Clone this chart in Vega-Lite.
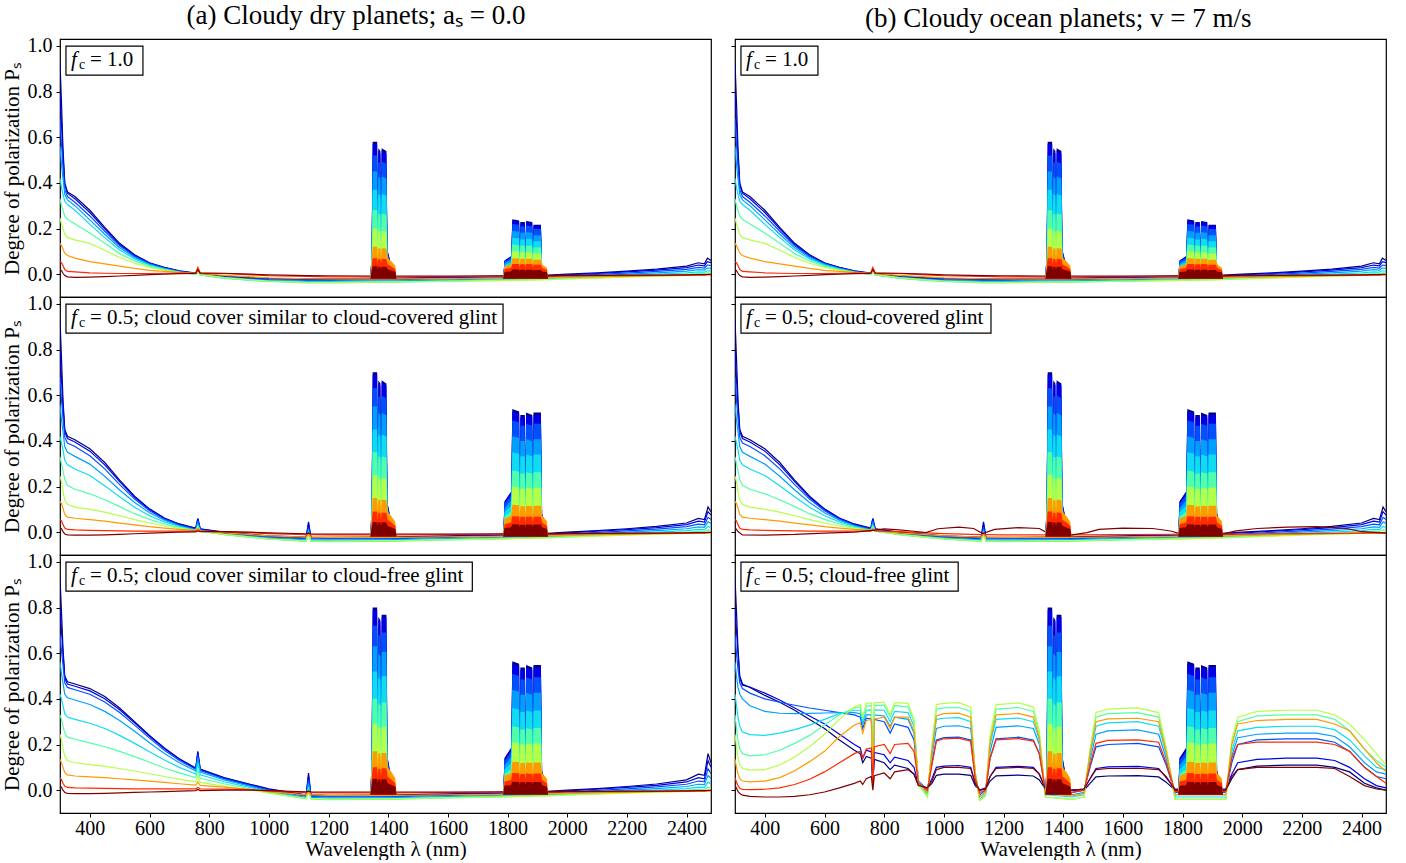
{
"$schema": "https://vega.github.io/schema/vega-lite/v6.json",
"padding": {"left": 0, "top": 2, "right": 5, "bottom": 0},
"config": {
  "font": "Liberation Serif",
  "view": {"stroke": "black", "strokeWidth": 1.2},
  "axis": {"grid": false, "domain": false, "tickColor": "black", "labelColor": "black", "titleColor": "black", "labelFont": "Liberation Serif", "titleFont": "Liberation Serif", "labelFontSize": 20, "titleFontSize": 21, "titleFontWeight": "normal", "tickSize": 4, "labelPadding": 4},
  "title": {"font": "Liberation Serif", "fontSize": 27, "fontWeight": "normal", "color": "black"},
  "text": {"font": "Liberation Serif", "color": "black"}
},
"datasets": {
"L": [
{"p":"1","x":300,"c0":0.93,"c1":0.8,"c2":0.68,"c3":0.56,"c4":0.42,"c5":0.33,"c6":0.245,"c7":0.135,"c8":0.055,"c9":0.02},
{"p":"1","x":305,"c0":0.75,"c1":0.66,"c2":0.57,"c3":0.48,"c4":0.38,"c5":0.3,"c6":0.22,"c7":0.125,"c8":0.05,"c9":0.015},
{"p":"1","x":310,"c0":0.55,"c1":0.52,"c2":0.47,"c3":0.42,"c4":0.35,"c5":0.28,"c6":0.2,"c7":0.11,"c8":0.038,"c9":0.004},
{"p":"1","x":316,"c0":0.4,"c1":0.39,"c2":0.37,"c3":0.35,"c4":0.32,"c5":0.255,"c6":0.175,"c7":0.092,"c8":0.02,"c9":-0.006},
{"p":"1","x":325,"c0":0.36,"c1":0.355,"c2":0.34,"c3":0.325,"c4":0.305,"c5":0.24,"c6":0.16,"c7":0.082,"c8":0.012,"c9":-0.012},
{"p":"1","x":350,"c0":0.34,"c1":0.33,"c2":0.315,"c3":0.3,"c4":0.28,"c5":0.22,"c6":0.15,"c7":0.07,"c8":0.01,"c9":-0.014},
{"p":"1","x":400,"c0":0.28,"c1":0.27,"c2":0.255,"c3":0.238,"c4":0.218,"c5":0.18,"c6":0.135,"c7":0.055,"c8":0.006,"c9":-0.013},
{"p":"1","x":450,"c0":0.205,"c1":0.198,"c2":0.188,"c3":0.175,"c4":0.16,"c5":0.135,"c6":0.105,"c7":0.045,"c8":0.004,"c9":-0.011},
{"p":"1","x":500,"c0":0.135,"c1":0.13,"c2":0.124,"c3":0.116,"c4":0.106,"c5":0.09,"c6":0.073,"c7":0.035,"c8":0.003,"c9":-0.008},
{"p":"1","x":550,"c0":0.085,"c1":0.082,"c2":0.078,"c3":0.073,"c4":0.067,"c5":0.058,"c6":0.048,"c7":0.025,"c8":0.003,"c9":-0.005},
{"p":"1","x":600,"c0":0.05,"c1":0.048,"c2":0.046,"c3":0.043,"c4":0.04,"c5":0.035,"c6":0.03,"c7":0.017,"c8":0.003,"c9":-0.002},
{"p":"1","x":650,"c0":0.03,"c1":0.029,"c2":0.027,"c3":0.025,"c4":0.022,"c5":0.02,"c6":0.018,"c7":0.012,"c8":0.004,"c9":0},
{"p":"1","x":700,"c0":0.015,"c1":0.014,"c2":0.012,"c3":0.01,"c4":0.009,"c5":0.008,"c6":0.008,"c7":0.008,"c8":0.005,"c9":0.002},
{"p":"1","x":755,"c0":0.005,"c1":0.004,"c2":0.002,"c3":0,"c4":-0.001,"c5":-0.001,"c6":0,"c7":0.004,"c8":0.006,"c9":0.003},
{"p":"1","x":762,"c0":0.015,"c1":0.014,"c2":0.012,"c3":0.01,"c4":0.01,"c5":0.012,"c6":0.014,"c7":0.02,"c8":0.03,"c9":0.02},
{"p":"1","x":770,"c0":0.003,"c1":0.002,"c2":0,"c3":-0.002,"c4":-0.003,"c5":-0.003,"c6":-0.002,"c7":0.003,"c8":0.006,"c9":0.004},
{"p":"1","x":850,"c0":-0.008,"c1":-0.01,"c2":-0.012,"c3":-0.015,"c4":-0.017,"c5":-0.017,"c6":-0.015,"c7":-0.005,"c8":0.003,"c9":0.004},
{"p":"1","x":940,"c0":-0.015,"c1":-0.017,"c2":-0.02,"c3":-0.023,"c4":-0.026,"c5":-0.027,"c6":-0.025,"c7":-0.012,"c8":-0.003,"c9":0},
{"p":"1","x":1000,"c0":-0.018,"c1":-0.02,"c2":-0.024,"c3":-0.028,"c4":-0.031,"c5":-0.032,"c6":-0.03,"c7":-0.016,"c8":-0.007,"c9":-0.003},
{"p":"1","x":1130,"c0":-0.02,"c1":-0.023,"c2":-0.027,"c3":-0.032,"c4":-0.036,"c5":-0.038,"c6":-0.036,"c7":-0.02,"c8":-0.01,"c9":-0.006},
{"p":"1","x":1200,"c0":-0.02,"c1":-0.023,"c2":-0.027,"c3":-0.032,"c4":-0.036,"c5":-0.038,"c6":-0.036,"c7":-0.021,"c8":-0.012,"c9":-0.007},
{"p":"1","x":1340,"c0":-0.018,"c1":-0.021,"c2":-0.025,"c3":-0.03,"c4":-0.034,"c5":-0.036,"c6":-0.035,"c7":-0.021,"c8":-0.012,"c9":-0.008},
{"p":"1","x":1430,"c0":-0.017,"c1":-0.02,"c2":-0.024,"c3":-0.029,"c4":-0.033,"c5":-0.035,"c6":-0.034,"c7":-0.021,"c8":-0.012,"c9":-0.008},
{"p":"1","x":1600,"c0":-0.013,"c1":-0.016,"c2":-0.02,"c3":-0.025,"c4":-0.029,"c5":-0.031,"c6":-0.031,"c7":-0.019,"c8":-0.011,"c9":-0.008},
{"p":"1","x":1790,"c0":-0.008,"c1":-0.011,"c2":-0.015,"c3":-0.02,"c4":-0.024,"c5":-0.027,"c6":-0.027,"c7":-0.017,"c8":-0.01,"c9":-0.007},
{"p":"1","x":1935,"c0":-0.004,"c1":-0.007,"c2":-0.011,"c3":-0.016,"c4":-0.02,"c5":-0.023,"c6":-0.024,"c7":-0.015,"c8":-0.009,"c9":-0.006},
{"p":"1","x":2000,"c0":0,"c1":-0.003,"c2":-0.007,"c3":-0.012,"c4":-0.016,"c5":-0.02,"c6":-0.021,"c7":-0.013,"c8":-0.008,"c9":-0.005},
{"p":"1","x":2100,"c0":0.006,"c1":0.003,"c2":-0.001,"c3":-0.006,"c4":-0.011,"c5":-0.015,"c6":-0.017,"c7":-0.011,"c8":-0.007,"c9":-0.005},
{"p":"1","x":2200,"c0":0.013,"c1":0.01,"c2":0.005,"c3":0,"c4":-0.005,"c5":-0.01,"c6":-0.013,"c7":-0.009,"c8":-0.006,"c9":-0.004},
{"p":"1","x":2300,"c0":0.022,"c1":0.018,"c2":0.012,"c3":0.006,"c4":0,"c5":-0.005,"c6":-0.009,"c7":-0.007,"c8":-0.005,"c9":-0.004},
{"p":"1","x":2400,"c0":0.035,"c1":0.029,"c2":0.021,"c3":0.013,"c4":0.006,"c5":0,"c6":-0.005,"c7":-0.005,"c8":-0.004,"c9":-0.003},
{"p":"1","x":2440,"c0":0.05,"c1":0.04,"c2":0.03,"c3":0.02,"c4":0.01,"c5":0.003,"c6":-0.003,"c7":-0.004,"c8":-0.003,"c9":-0.002},
{"p":"1","x":2460,"c0":0.045,"c1":0.036,"c2":0.027,"c3":0.018,"c4":0.009,"c5":0.002,"c6":-0.003,"c7":-0.004,"c8":-0.003,"c9":-0.002},
{"p":"1","x":2470,"c0":0.07,"c1":0.055,"c2":0.04,"c3":0.027,"c4":0.015,"c5":0.006,"c6":0,"c7":-0.003,"c8":-0.002,"c9":-0.001},
{"p":"1","x":2482,"c0":0.06,"c1":0.05,"c2":0.037,"c3":0.025,"c4":0.013,"c5":0.005,"c6":-0.001,"c7":-0.003,"c8":-0.002,"c9":-0.001},

{"p":"2","x":300,"c0":0.93,"c1":0.8,"c2":0.68,"c3":0.56,"c4":0.42,"c5":0.33,"c6":0.245,"c7":0.135,"c8":0.055,"c9":0.02},
{"p":"2","x":305,"c0":0.76,"c1":0.67,"c2":0.58,"c3":0.49,"c4":0.39,"c5":0.3,"c6":0.22,"c7":0.125,"c8":0.05,"c9":0.015},
{"p":"2","x":310,"c0":0.58,"c1":0.55,"c2":0.5,"c3":0.44,"c4":0.36,"c5":0.27,"c6":0.18,"c7":0.105,"c8":0.033,"c9":0.002},
{"p":"2","x":316,"c0":0.45,"c1":0.44,"c2":0.415,"c3":0.375,"c4":0.315,"c5":0.23,"c6":0.14,"c7":0.078,"c8":0.018,"c9":-0.008},
{"p":"2","x":325,"c0":0.42,"c1":0.41,"c2":0.39,"c3":0.35,"c4":0.295,"c5":0.205,"c6":0.122,"c7":0.066,"c8":0.012,"c9":-0.012},
{"p":"2","x":350,"c0":0.405,"c1":0.395,"c2":0.375,"c3":0.332,"c4":0.277,"c5":0.188,"c6":0.11,"c7":0.061,"c8":0.01,"c9":-0.013},
{"p":"2","x":400,"c0":0.365,"c1":0.355,"c2":0.335,"c3":0.298,"c4":0.248,"c5":0.168,"c6":0.1,"c7":0.055,"c8":0.008,"c9":-0.013},
{"p":"2","x":450,"c0":0.305,"c1":0.295,"c2":0.277,"c3":0.245,"c4":0.203,"c5":0.142,"c6":0.088,"c7":0.048,"c8":0.007,"c9":-0.012},
{"p":"2","x":500,"c0":0.228,"c1":0.221,"c2":0.208,"c3":0.185,"c4":0.155,"c5":0.112,"c6":0.072,"c7":0.04,"c8":0.006,"c9":-0.01},
{"p":"2","x":550,"c0":0.158,"c1":0.153,"c2":0.145,"c3":0.13,"c4":0.109,"c5":0.081,"c6":0.055,"c7":0.032,"c8":0.005,"c9":-0.007},
{"p":"2","x":600,"c0":0.102,"c1":0.099,"c2":0.094,"c3":0.085,"c4":0.072,"c5":0.056,"c6":0.04,"c7":0.024,"c8":0.005,"c9":-0.004},
{"p":"2","x":650,"c0":0.062,"c1":0.06,"c2":0.057,"c3":0.052,"c4":0.045,"c5":0.036,"c6":0.027,"c7":0.018,"c8":0.005,"c9":-0.002},
{"p":"2","x":700,"c0":0.036,"c1":0.034,"c2":0.031,"c3":0.028,"c4":0.025,"c5":0.021,"c6":0.017,"c7":0.012,"c8":0.005,"c9":0},
{"p":"2","x":755,"c0":0.018,"c1":0.016,"c2":0.013,"c3":0.01,"c4":0.008,"c5":0.007,"c6":0.007,"c7":0.008,"c8":0.005,"c9":0.001},
{"p":"2","x":762,"c0":0.06,"c1":0.057,"c2":0.05,"c3":0.04,"c4":0.03,"c5":0.025,"c6":0.02,"c7":0.016,"c8":0.01,"c9":0.005},
{"p":"2","x":770,"c0":0.015,"c1":0.013,"c2":0.01,"c3":0.007,"c4":0.005,"c5":0.004,"c6":0.004,"c7":0.006,"c8":0.005,"c9":0.002},
{"p":"2","x":850,"c0":0,"c1":-0.002,"c2":-0.005,"c3":-0.008,"c4":-0.01,"c5":-0.011,"c6":-0.01,"c7":-0.003,"c8":0.002,"c9":0.002},
{"p":"2","x":940,"c0":-0.01,"c1":-0.012,"c2":-0.015,"c3":-0.019,"c4":-0.022,"c5":-0.023,"c6":-0.022,"c7":-0.011,"c8":-0.003,"c9":0},
{"p":"2","x":1000,"c0":-0.016,"c1":-0.018,"c2":-0.022,"c3":-0.026,"c4":-0.029,"c5":-0.03,"c6":-0.029,"c7":-0.016,"c8":-0.006,"c9":-0.003},
{"p":"2","x":1125,"c0":-0.022,"c1":-0.025,"c2":-0.029,"c3":-0.034,"c4":-0.038,"c5":-0.04,"c6":-0.038,"c7":-0.022,"c8":-0.011,"c9":-0.007},
{"p":"2","x":1133,"c0":0.045,"c1":0.035,"c2":0.022,"c3":0.01,"c4":0,"c5":-0.01,"c6":-0.015,"c7":-0.01,"c8":-0.005,"c9":-0.004},
{"p":"2","x":1141,"c0":-0.022,"c1":-0.025,"c2":-0.029,"c3":-0.034,"c4":-0.038,"c5":-0.04,"c6":-0.038,"c7":-0.022,"c8":-0.011,"c9":-0.007},
{"p":"2","x":1200,"c0":-0.023,"c1":-0.026,"c2":-0.03,"c3":-0.035,"c4":-0.039,"c5":-0.041,"c6":-0.039,"c7":-0.023,"c8":-0.012,"c9":-0.008},
{"p":"2","x":1340,"c0":-0.022,"c1":-0.025,"c2":-0.029,"c3":-0.034,"c4":-0.038,"c5":-0.04,"c6":-0.038,"c7":-0.023,"c8":-0.012,"c9":-0.008},
{"p":"2","x":1430,"c0":-0.021,"c1":-0.024,"c2":-0.028,"c3":-0.033,"c4":-0.037,"c5":-0.039,"c6":-0.037,"c7":-0.023,"c8":-0.012,"c9":-0.008},
{"p":"2","x":1600,"c0":-0.016,"c1":-0.019,"c2":-0.023,"c3":-0.028,"c4":-0.032,"c5":-0.034,"c6":-0.033,"c7":-0.02,"c8":-0.011,"c9":-0.008},
{"p":"2","x":1790,"c0":-0.01,"c1":-0.013,"c2":-0.017,"c3":-0.022,"c4":-0.026,"c5":-0.029,"c6":-0.029,"c7":-0.018,"c8":-0.01,"c9":-0.007},
{"p":"2","x":1935,"c0":-0.005,"c1":-0.008,"c2":-0.012,"c3":-0.017,"c4":-0.021,"c5":-0.024,"c6":-0.025,"c7":-0.016,"c8":-0.009,"c9":-0.006},
{"p":"2","x":2000,"c0":0,"c1":-0.003,"c2":-0.008,"c3":-0.013,"c4":-0.017,"c5":-0.021,"c6":-0.022,"c7":-0.014,"c8":-0.008,"c9":-0.005},
{"p":"2","x":2100,"c0":0.007,"c1":0.004,"c2":-0.001,"c3":-0.006,"c4":-0.011,"c5":-0.015,"c6":-0.017,"c7":-0.011,"c8":-0.007,"c9":-0.005},
{"p":"2","x":2200,"c0":0.015,"c1":0.011,"c2":0.006,"c3":0,"c4":-0.005,"c5":-0.01,"c6":-0.013,"c7":-0.009,"c8":-0.006,"c9":-0.004},
{"p":"2","x":2300,"c0":0.025,"c1":0.02,"c2":0.013,"c3":0.007,"c4":0,"c5":-0.005,"c6":-0.009,"c7":-0.007,"c8":-0.005,"c9":-0.004},
{"p":"2","x":2400,"c0":0.04,"c1":0.033,"c2":0.024,"c3":0.015,"c4":0.007,"c5":0,"c6":-0.005,"c7":-0.005,"c8":-0.004,"c9":-0.003},
{"p":"2","x":2440,"c0":0.06,"c1":0.048,"c2":0.035,"c3":0.023,"c4":0.012,"c5":0.004,"c6":-0.003,"c7":-0.004,"c8":-0.003,"c9":-0.002},
{"p":"2","x":2460,"c0":0.055,"c1":0.044,"c2":0.032,"c3":0.021,"c4":0.011,"c5":0.003,"c6":-0.003,"c7":-0.004,"c8":-0.003,"c9":-0.002},
{"p":"2","x":2472,"c0":0.11,"c1":0.09,"c2":0.065,"c3":0.045,"c4":0.025,"c5":0.01,"c6":0,"c7":-0.003,"c8":-0.002,"c9":-0.001},
{"p":"2","x":2482,"c0":0.09,"c1":0.075,"c2":0.055,"c3":0.038,"c4":0.02,"c5":0.008,"c6":-0.001,"c7":-0.003,"c8":-0.002,"c9":-0.001},

{"p":"2b","x":300,"c9":0.02},{"p":"2b","x":310,"c9":0.003},{"p":"2b","x":325,"c9":-0.012},{"p":"2b","x":400,"c9":-0.013},
{"p":"2b","x":500,"c9":-0.01},{"p":"2b","x":600,"c9":-0.004},{"p":"2b","x":700,"c9":0},{"p":"2b","x":760,"c9":0.008},
{"p":"2b","x":800,"c9":0.014},{"p":"2b","x":850,"c9":0.01},{"p":"2b","x":900,"c9":0.004},{"p":"2b","x":940,"c9":-0.002},
{"p":"2b","x":980,"c9":0.015},{"p":"2b","x":1050,"c9":0.022},{"p":"2b","x":1100,"c9":0.016},{"p":"2b","x":1130,"c9":-0.006},
{"p":"2b","x":1170,"c9":0.012},{"p":"2b","x":1250,"c9":0.02},{"p":"2b","x":1320,"c9":0.016},{"p":"2b","x":1345,"c9":-0.002},
{"p":"2b","x":1430,"c9":-0.012},{"p":"2b","x":1480,"c9":-0.002},{"p":"2b","x":1520,"c9":0.012},{"p":"2b","x":1600,"c9":0.018},
{"p":"2b","x":1700,"c9":0.016},{"p":"2b","x":1760,"c9":0.005},{"p":"2b","x":1790,"c9":-0.006},{"p":"2b","x":1940,"c9":-0.006},
{"p":"2b","x":1980,"c9":0.006},{"p":"2b","x":2050,"c9":0.016},{"p":"2b","x":2150,"c9":0.022},{"p":"2b","x":2250,"c9":0.024},
{"p":"2b","x":2350,"c9":0.016},{"p":"2b","x":2400,"c9":0.002},{"p":"2b","x":2482,"c9":-0.004},

{"p":"3","x":300,"c0":0.93,"c1":0.8,"c2":0.68,"c3":0.56,"c4":0.42,"c5":0.33,"c6":0.245,"c7":0.135,"c8":0.055,"c9":0.02},
{"p":"3","x":305,"c0":0.78,"c1":0.7,"c2":0.61,"c3":0.51,"c4":0.4,"c5":0.31,"c6":0.22,"c7":0.12,"c8":0.045,"c9":0.012},
{"p":"3","x":310,"c0":0.62,"c1":0.6,"c2":0.55,"c3":0.47,"c4":0.37,"c5":0.28,"c6":0.185,"c7":0.1,"c8":0.03,"c9":0},
{"p":"3","x":316,"c0":0.5,"c1":0.49,"c2":0.47,"c3":0.42,"c4":0.335,"c5":0.25,"c6":0.15,"c7":0.078,"c8":0.018,"c9":-0.01},
{"p":"3","x":325,"c0":0.475,"c1":0.465,"c2":0.45,"c3":0.405,"c4":0.32,"c5":0.232,"c6":0.13,"c7":0.067,"c8":0.012,"c9":-0.014},
{"p":"3","x":350,"c0":0.465,"c1":0.455,"c2":0.44,"c3":0.395,"c4":0.31,"c5":0.223,"c6":0.12,"c7":0.062,"c8":0.01,"c9":-0.015},
{"p":"3","x":400,"c0":0.445,"c1":0.435,"c2":0.42,"c3":0.375,"c4":0.293,"c5":0.207,"c6":0.112,"c7":0.058,"c8":0.009,"c9":-0.015},
{"p":"3","x":450,"c0":0.41,"c1":0.4,"c2":0.386,"c3":0.345,"c4":0.27,"c5":0.19,"c6":0.104,"c7":0.055,"c8":0.008,"c9":-0.014},
{"p":"3","x":500,"c0":0.36,"c1":0.352,"c2":0.34,"c3":0.305,"c4":0.24,"c5":0.17,"c6":0.095,"c7":0.05,"c8":0.007,"c9":-0.012},
{"p":"3","x":550,"c0":0.3,"c1":0.295,"c2":0.285,"c3":0.258,"c4":0.205,"c5":0.147,"c6":0.084,"c7":0.045,"c8":0.006,"c9":-0.01},
{"p":"3","x":600,"c0":0.24,"c1":0.236,"c2":0.228,"c3":0.208,"c4":0.168,"c5":0.122,"c6":0.072,"c7":0.04,"c8":0.006,"c9":-0.008},
{"p":"3","x":650,"c0":0.185,"c1":0.182,"c2":0.175,"c3":0.161,"c4":0.132,"c5":0.097,"c6":0.06,"c7":0.034,"c8":0.006,"c9":-0.006},
{"p":"3","x":700,"c0":0.138,"c1":0.135,"c2":0.13,"c3":0.12,"c4":0.1,"c5":0.076,"c6":0.048,"c7":0.028,"c8":0.006,"c9":-0.004},
{"p":"3","x":755,"c0":0.097,"c1":0.095,"c2":0.091,"c3":0.084,"c4":0.071,"c5":0.055,"c6":0.036,"c7":0.022,"c8":0.006,"c9":-0.002},
{"p":"3","x":762,"c0":0.17,"c1":0.165,"c2":0.155,"c3":0.14,"c4":0.12,"c5":0.09,"c6":0.06,"c7":0.036,"c8":0.012,"c9":0.003},
{"p":"3","x":770,"c0":0.092,"c1":0.09,"c2":0.086,"c3":0.079,"c4":0.067,"c5":0.052,"c6":0.034,"c7":0.021,"c8":0.006,"c9":-0.002},
{"p":"3","x":850,"c0":0.055,"c1":0.053,"c2":0.05,"c3":0.045,"c4":0.037,"c5":0.028,"c6":0.018,"c7":0.013,"c8":0.005,"c9":0},
{"p":"3","x":940,"c0":0.025,"c1":0.023,"c2":0.02,"c3":0.016,"c4":0.011,"c5":0.005,"c6":0.001,"c7":0.003,"c8":0.002,"c9":0},
{"p":"3","x":1000,"c0":0.006,"c1":0.004,"c2":0,"c3":-0.004,"c4":-0.008,"c5":-0.012,"c6":-0.013,"c7":-0.006,"c8":-0.003,"c9":-0.002},
{"p":"3","x":1125,"c0":-0.02,"c1":-0.023,"c2":-0.027,"c3":-0.032,"c4":-0.036,"c5":-0.038,"c6":-0.036,"c7":-0.021,"c8":-0.011,"c9":-0.007},
{"p":"3","x":1133,"c0":0.075,"c1":0.062,"c2":0.045,"c3":0.03,"c4":0.015,"c5":0,"c6":-0.01,"c7":-0.01,"c8":-0.005,"c9":-0.004},
{"p":"3","x":1141,"c0":-0.02,"c1":-0.023,"c2":-0.027,"c3":-0.032,"c4":-0.036,"c5":-0.038,"c6":-0.036,"c7":-0.021,"c8":-0.011,"c9":-0.007},
{"p":"3","x":1200,"c0":-0.023,"c1":-0.026,"c2":-0.03,"c3":-0.035,"c4":-0.039,"c5":-0.041,"c6":-0.039,"c7":-0.023,"c8":-0.012,"c9":-0.008},
{"p":"3","x":1340,"c0":-0.022,"c1":-0.025,"c2":-0.029,"c3":-0.034,"c4":-0.038,"c5":-0.04,"c6":-0.038,"c7":-0.023,"c8":-0.012,"c9":-0.008},
{"p":"3","x":1430,"c0":-0.021,"c1":-0.024,"c2":-0.028,"c3":-0.033,"c4":-0.037,"c5":-0.039,"c6":-0.037,"c7":-0.023,"c8":-0.012,"c9":-0.008},
{"p":"3","x":1600,"c0":-0.016,"c1":-0.019,"c2":-0.023,"c3":-0.028,"c4":-0.032,"c5":-0.034,"c6":-0.033,"c7":-0.02,"c8":-0.011,"c9":-0.008},
{"p":"3","x":1790,"c0":-0.01,"c1":-0.013,"c2":-0.017,"c3":-0.022,"c4":-0.026,"c5":-0.029,"c6":-0.029,"c7":-0.018,"c8":-0.01,"c9":-0.007},
{"p":"3","x":1935,"c0":-0.005,"c1":-0.008,"c2":-0.012,"c3":-0.017,"c4":-0.021,"c5":-0.024,"c6":-0.025,"c7":-0.016,"c8":-0.009,"c9":-0.006},
{"p":"3","x":2000,"c0":0,"c1":-0.003,"c2":-0.008,"c3":-0.013,"c4":-0.017,"c5":-0.021,"c6":-0.022,"c7":-0.014,"c8":-0.008,"c9":-0.005},
{"p":"3","x":2100,"c0":0.007,"c1":0.004,"c2":-0.001,"c3":-0.006,"c4":-0.011,"c5":-0.015,"c6":-0.017,"c7":-0.011,"c8":-0.007,"c9":-0.005},
{"p":"3","x":2200,"c0":0.016,"c1":0.012,"c2":0.006,"c3":0,"c4":-0.005,"c5":-0.01,"c6":-0.013,"c7":-0.009,"c8":-0.006,"c9":-0.004},
{"p":"3","x":2300,"c0":0.027,"c1":0.021,"c2":0.014,"c3":0.007,"c4":0,"c5":-0.005,"c6":-0.009,"c7":-0.007,"c8":-0.005,"c9":-0.004},
{"p":"3","x":2400,"c0":0.045,"c1":0.036,"c2":0.026,"c3":0.016,"c4":0.007,"c5":0,"c6":-0.005,"c7":-0.005,"c8":-0.004,"c9":-0.003},
{"p":"3","x":2440,"c0":0.07,"c1":0.055,"c2":0.04,"c3":0.026,"c4":0.013,"c5":0.004,"c6":-0.003,"c7":-0.004,"c8":-0.003,"c9":-0.002},
{"p":"3","x":2460,"c0":0.065,"c1":0.05,"c2":0.037,"c3":0.024,"c4":0.012,"c5":0.003,"c6":-0.003,"c7":-0.004,"c8":-0.003,"c9":-0.002},
{"p":"3","x":2472,"c0":0.16,"c1":0.13,"c2":0.095,"c3":0.065,"c4":0.035,"c5":0.013,"c6":0,"c7":-0.003,"c8":-0.002,"c9":-0.001},
{"p":"3","x":2482,"c0":0.12,"c1":0.1,"c2":0.072,"c3":0.05,"c4":0.027,"c5":0.01,"c6":-0.001,"c7":-0.003,"c8":-0.002,"c9":-0.001},

{"p":"3b","x":300,"c0":0.93,"c1":0.8,"c2":0.68,"c3":0.56,"c4":0.42,"c5":0.33,"c6":0.245,"c7":0.135,"c8":0.055,"c9":0.02},
{"p":"3b","x":305,"c0":0.78,"c1":0.7,"c2":0.6,"c3":0.5,"c4":0.37,"c5":0.27,"c6":0.19,"c7":0.1,"c8":0.035,"c9":0.008},
{"p":"3b","x":310,"c0":0.62,"c1":0.6,"c2":0.53,"c3":0.45,"c4":0.32,"c5":0.22,"c6":0.14,"c7":0.07,"c8":0.02,"c9":-0.005},
{"p":"3b","x":316,"c0":0.5,"c1":0.49,"c2":0.47,"c3":0.42,"c4":0.28,"c5":0.18,"c6":0.11,"c7":0.05,"c8":0.008,"c9":-0.015},
{"p":"3b","x":325,"c0":0.465,"c1":0.46,"c2":0.445,"c3":0.4,"c4":0.255,"c5":0.16,"c6":0.095,"c7":0.04,"c8":0.003,"c9":-0.022},
{"p":"3b","x":350,"c0":0.45,"c1":0.452,"c2":0.425,"c3":0.37,"c4":0.243,"c5":0.15,"c6":0.088,"c7":0.036,"c8":0.002,"c9":-0.027},
{"p":"3b","x":400,"c0":0.415,"c1":0.425,"c2":0.4,"c3":0.345,"c4":0.24,"c5":0.155,"c6":0.09,"c7":0.04,"c8":0.004,"c9":-0.03},
{"p":"3b","x":450,"c0":0.385,"c1":0.395,"c2":0.385,"c3":0.337,"c4":0.25,"c5":0.175,"c6":0.11,"c7":0.055,"c8":0.01,"c9":-0.03},
{"p":"3b","x":500,"c0":0.35,"c1":0.36,"c2":0.372,"c3":0.335,"c4":0.265,"c5":0.205,"c6":0.145,"c7":0.085,"c8":0.025,"c9":-0.027},
{"p":"3b","x":550,"c0":0.31,"c1":0.325,"c2":0.36,"c3":0.336,"c4":0.285,"c5":0.24,"c6":0.19,"c7":0.125,"c8":0.048,"c9":-0.02},
{"p":"3b","x":600,"c0":0.27,"c1":0.29,"c2":0.35,"c3":0.338,"c4":0.31,"c5":0.285,"c6":0.245,"c7":0.17,"c8":0.08,"c9":-0.008},
{"p":"3b","x":650,"c0":0.22,"c1":0.245,"c2":0.34,"c3":0.34,"c4":0.335,"c5":0.33,"c6":0.31,"c7":0.235,"c8":0.12,"c9":0.01},
{"p":"3b","x":700,"c0":0.175,"c1":0.2,"c2":0.33,"c3":0.34,"c4":0.35,"c5":0.36,"c6":0.365,"c7":0.285,"c8":0.16,"c9":0.03},
{"p":"3b","x":720,"c0":0.16,"c1":0.185,"c2":0.32,"c3":0.335,"c4":0.35,"c5":0.365,"c6":0.375,"c7":0.295,"c8":0.17,"c9":0.04},
{"p":"3b","x":728,"c0":0.12,"c1":0.14,"c2":0.27,"c3":0.29,"c4":0.3,"c5":0.31,"c6":0.32,"c7":0.25,"c8":0.14,"c9":0.025},
{"p":"3b","x":740,"c0":0.148,"c1":0.175,"c2":0.315,"c3":0.33,"c4":0.35,"c5":0.368,"c6":0.38,"c7":0.305,"c8":0.18,"c9":0.05},
{"p":"3b","x":757,"c0":0.14,"c1":0.168,"c2":0.312,"c3":0.33,"c4":0.352,"c5":0.37,"c6":0.382,"c7":0.31,"c8":0.185,"c9":0.06},
{"p":"3b","x":762,"c0":0.03,"c1":0.03,"c2":0.06,"c3":0.06,"c4":0.06,"c5":0.06,"c6":0.06,"c7":0.05,"c8":0.03,"c9":0},
{"p":"3b","x":767,"c0":0.135,"c1":0.165,"c2":0.31,"c3":0.33,"c4":0.352,"c5":0.37,"c6":0.383,"c7":0.312,"c8":0.19,"c9":0.063},
{"p":"3b","x":800,"c0":0.12,"c1":0.155,"c2":0.3,"c3":0.325,"c4":0.35,"c5":0.372,"c6":0.385,"c7":0.32,"c8":0.2,"c9":0.075},
{"p":"3b","x":820,"c0":0.09,"c1":0.12,"c2":0.25,"c3":0.28,"c4":0.3,"c5":0.32,"c6":0.33,"c7":0.27,"c8":0.16,"c9":0.05},
{"p":"3b","x":835,"c0":0.11,"c1":0.145,"c2":0.29,"c3":0.32,"c4":0.345,"c5":0.37,"c6":0.383,"c7":0.32,"c8":0.2,"c9":0.08},
{"p":"3b","x":880,"c0":0.095,"c1":0.13,"c2":0.275,"c3":0.31,"c4":0.34,"c5":0.365,"c6":0.38,"c7":0.32,"c8":0.205,"c9":0.09},
{"p":"3b","x":900,"c0":0.07,"c1":0.1,"c2":0.22,"c3":0.25,"c4":0.28,"c5":0.3,"c6":0.31,"c7":0.26,"c8":0.17,"c9":0.07},
{"p":"3b","x":915,"c0":0.02,"c1":0.02,"c2":0.04,"c3":0.04,"c4":0.04,"c5":0.03,"c6":0.02,"c7":0.03,"c8":0.03,"c9":0.02},
{"p":"3b","x":945,"c0":0.01,"c1":0.01,"c2":0,"c3":-0.01,"c4":-0.02,"c5":-0.03,"c6":-0.03,"c7":-0.01,"c8":0,"c9":0.01},
{"p":"3b","x":960,"c0":0.03,"c1":0.05,"c2":0.12,"c3":0.15,"c4":0.17,"c5":0.19,"c6":0.2,"c7":0.17,"c8":0.11,"c9":0.04},
{"p":"3b","x":975,"c0":0.065,"c1":0.1,"c2":0.22,"c3":0.27,"c4":0.31,"c5":0.355,"c6":0.375,"c7":0.325,"c8":0.215,"c9":0.09},
{"p":"3b","x":1000,"c0":0.07,"c1":0.105,"c2":0.23,"c3":0.28,"c4":0.315,"c5":0.36,"c6":0.38,"c7":0.335,"c8":0.225,"c9":0.1},
{"p":"3b","x":1050,"c0":0.07,"c1":0.108,"c2":0.232,"c3":0.282,"c4":0.318,"c5":0.362,"c6":0.383,"c7":0.337,"c8":0.228,"c9":0.1},
{"p":"3b","x":1090,"c0":0.065,"c1":0.1,"c2":0.22,"c3":0.27,"c4":0.3,"c5":0.345,"c6":0.365,"c7":0.32,"c8":0.215,"c9":0.095},
{"p":"3b","x":1105,"c0":0.02,"c1":0.03,"c2":0.06,"c3":0.07,"c4":0.08,"c5":0.08,"c6":0.07,"c7":0.07,"c8":0.05,"c9":0.03},
{"p":"3b","x":1120,"c0":0,"c1":0,"c2":-0.02,"c3":-0.03,"c4":-0.04,"c5":-0.045,"c6":-0.045,"c7":-0.03,"c8":-0.01,"c9":0},
{"p":"3b","x":1140,"c0":0.005,"c1":0.01,"c2":0,"c3":-0.01,"c4":-0.02,"c5":-0.025,"c6":-0.025,"c7":-0.01,"c8":0,"c9":0.005},
{"p":"3b","x":1155,"c0":0.04,"c1":0.06,"c2":0.14,"c3":0.17,"c4":0.2,"c5":0.23,"c6":0.24,"c7":0.21,"c8":0.14,"c9":0.06},
{"p":"3b","x":1175,"c0":0.063,"c1":0.1,"c2":0.225,"c3":0.275,"c4":0.31,"c5":0.355,"c6":0.375,"c7":0.33,"c8":0.22,"c9":0.095},
{"p":"3b","x":1250,"c0":0.066,"c1":0.104,"c2":0.232,"c3":0.282,"c4":0.316,"c5":0.362,"c6":0.382,"c7":0.336,"c8":0.226,"c9":0.1},
{"p":"3b","x":1300,"c0":0.062,"c1":0.1,"c2":0.22,"c3":0.27,"c4":0.3,"c5":0.345,"c6":0.365,"c7":0.32,"c8":0.215,"c9":0.095},
{"p":"3b","x":1320,"c0":0.045,"c1":0.07,"c2":0.16,"c3":0.2,"c4":0.22,"c5":0.25,"c6":0.26,"c7":0.23,"c8":0.16,"c9":0.07},
{"p":"3b","x":1340,"c0":0.005,"c1":0.01,"c2":0,"c3":-0.01,"c4":-0.02,"c5":-0.03,"c6":-0.03,"c7":-0.015,"c8":0,"c9":0.005},
{"p":"3b","x":1430,"c0":0,"c1":0,"c2":-0.01,"c3":-0.02,"c4":-0.03,"c5":-0.04,"c6":-0.04,"c7":-0.025,"c8":-0.01,"c9":0},
{"p":"3b","x":1470,"c0":0,"c1":0.005,"c2":0,"c3":-0.01,"c4":-0.02,"c5":-0.03,"c6":-0.03,"c7":-0.015,"c8":0,"c9":0.005},
{"p":"3b","x":1490,"c0":0.03,"c1":0.05,"c2":0.1,"c3":0.13,"c4":0.15,"c5":0.17,"c6":0.18,"c7":0.16,"c8":0.11,"c9":0.05},
{"p":"3b","x":1510,"c0":0.058,"c1":0.095,"c2":0.19,"c3":0.245,"c4":0.28,"c5":0.32,"c6":0.34,"c7":0.3,"c8":0.205,"c9":0.09},
{"p":"3b","x":1550,"c0":0.062,"c1":0.102,"c2":0.2,"c3":0.26,"c4":0.295,"c5":0.335,"c6":0.355,"c7":0.312,"c8":0.218,"c9":0.095},
{"p":"3b","x":1650,"c0":0.064,"c1":0.104,"c2":0.205,"c3":0.264,"c4":0.3,"c5":0.34,"c6":0.36,"c7":0.315,"c8":0.22,"c9":0.096},
{"p":"3b","x":1720,"c0":0.058,"c1":0.095,"c2":0.19,"c3":0.245,"c4":0.28,"c5":0.32,"c6":0.34,"c7":0.3,"c8":0.21,"c9":0.09},
{"p":"3b","x":1745,"c0":0.035,"c1":0.055,"c2":0.11,"c3":0.14,"c4":0.16,"c5":0.18,"c6":0.19,"c7":0.17,"c8":0.12,"c9":0.06},
{"p":"3b","x":1775,"c0":0,"c1":0.005,"c2":-0.01,"c3":-0.02,"c4":-0.03,"c5":-0.04,"c6":-0.04,"c7":-0.02,"c8":-0.005,"c9":0},
{"p":"3b","x":1945,"c0":0,"c1":0.005,"c2":-0.01,"c3":-0.02,"c4":-0.03,"c5":-0.04,"c6":-0.04,"c7":-0.02,"c8":-0.005,"c9":0},
{"p":"3b","x":1965,"c0":0.05,"c1":0.07,"c2":0.12,"c3":0.15,"c4":0.17,"c5":0.2,"c6":0.22,"c7":0.2,"c8":0.14,"c9":0.06},
{"p":"3b","x":1985,"c0":0.09,"c1":0.12,"c2":0.2,"c3":0.23,"c4":0.26,"c5":0.3,"c6":0.32,"c7":0.29,"c8":0.2,"c9":0.09},
{"p":"3b","x":2050,"c0":0.105,"c1":0.135,"c2":0.22,"c3":0.245,"c4":0.275,"c5":0.325,"c6":0.345,"c7":0.305,"c8":0.21,"c9":0.1},
{"p":"3b","x":2150,"c0":0.11,"c1":0.14,"c2":0.225,"c3":0.25,"c4":0.28,"c5":0.33,"c6":0.35,"c7":0.31,"c8":0.21,"c9":0.1},
{"p":"3b","x":2250,"c0":0.11,"c1":0.14,"c2":0.225,"c3":0.25,"c4":0.28,"c5":0.33,"c6":0.35,"c7":0.31,"c8":0.21,"c9":0.1},
{"p":"3b","x":2310,"c0":0.1,"c1":0.13,"c2":0.21,"c3":0.235,"c4":0.265,"c5":0.31,"c6":0.33,"c7":0.29,"c8":0.2,"c9":0.095},
{"p":"3b","x":2360,"c0":0.08,"c1":0.1,"c2":0.17,"c3":0.19,"c4":0.22,"c5":0.26,"c6":0.29,"c7":0.26,"c8":0.17,"c9":0.06},
{"p":"3b","x":2410,"c0":0.03,"c1":0.05,"c2":0.1,"c3":0.12,"c4":0.15,"c5":0.18,"c6":0.22,"c7":0.18,"c8":0.1,"c9":0.02},
{"p":"3b","x":2450,"c0":0.01,"c1":0.02,"c2":0.06,"c3":0.08,"c4":0.1,"c5":0.13,"c6":0.16,"c7":0.12,"c8":0.06,"c9":0.005},
{"p":"3b","x":2482,"c0":0,"c1":0.01,"c2":0.05,"c3":0.07,"c4":0.09,"c5":0.1,"c6":0.11,"c7":0.08,"c8":0.03,"c9":0}
],
"S": [
{"p":"1","x":1340,"c0":-0.02,"c1":-0.02,"c2":-0.02,"c3":-0.02,"c4":-0.02,"c5":-0.02,"c6":-0.02,"c7":-0.02,"c8":-0.02,"c9":-0.02},
{"p":"1","x":1344,"c0":0.087,"c1":0.086,"c2":0.078,"c3":0.068,"c4":0.056,"c5":0.042,"c6":0.03,"c7":0.036,"c8":0.021,"c9":0.011},
{"p":"1","x":1348,"c0":0.58,"c1":0.57,"c2":0.52,"c3":0.45,"c4":0.37,"c5":0.28,"c6":0.2,"c7":0.12,"c8":0.07,"c9":0.035},
{"p":"1","x":1363,"c0":0.58,"c1":0.57,"c2":0.52,"c3":0.45,"c4":0.37,"c5":0.28,"c6":0.2,"c7":0.12,"c8":0.07,"c9":0.035},
{"p":"1","x":1365,"c0":0.348,"c1":0.342,"c2":0.312,"c3":0.27,"c4":0.222,"c5":0.168,"c6":0.12,"c7":0.072,"c8":0.042,"c9":0.021},
{"p":"1","x":1367,"c0":0.551,"c1":0.542,"c2":0.494,"c3":0.428,"c4":0.352,"c5":0.266,"c6":0.19,"c7":0.114,"c8":0.067,"c9":0.033},
{"p":"1","x":1374,"c0":0.539,"c1":0.53,"c2":0.484,"c3":0.419,"c4":0.344,"c5":0.26,"c6":0.186,"c7":0.112,"c8":0.065,"c9":0.033},
{"p":"1","x":1376,"c0":0.261,"c1":0.257,"c2":0.234,"c3":0.203,"c4":0.167,"c5":0.126,"c6":0.09,"c7":0.072,"c8":0.042,"c9":0.021},
{"p":"1","x":1378,"c0":0.551,"c1":0.542,"c2":0.494,"c3":0.428,"c4":0.352,"c5":0.266,"c6":0.19,"c7":0.114,"c8":0.067,"c9":0.033},
{"p":"1","x":1394,"c0":0.539,"c1":0.53,"c2":0.484,"c3":0.419,"c4":0.344,"c5":0.26,"c6":0.186,"c7":0.112,"c8":0.065,"c9":0.033},
{"p":"1","x":1398,"c0":0.104,"c1":0.103,"c2":0.094,"c3":0.081,"c4":0.067,"c5":0.05,"c6":0.036,"c7":0.072,"c8":0.042,"c9":0.021},
{"p":"1","x":1412,"c0":0.029,"c1":0.029,"c2":0.026,"c3":0.023,"c4":0.019,"c5":0.014,"c6":0.01,"c7":0.054,"c8":0.032,"c9":0.016},
{"p":"1","x":1424,"c0":0,"c1":0,"c2":0,"c3":0,"c4":0,"c5":0,"c6":0,"c7":0.036,"c8":0.021,"c9":0.011},
{"p":"1","x":1428,"c0":-0.02,"c1":-0.02,"c2":-0.02,"c3":-0.02,"c4":-0.02,"c5":-0.02,"c6":-0.02,"c7":-0.02,"c8":-0.02,"c9":-0.02},
{"p":"1","x":1785,"c0":-0.02,"c1":-0.02,"c2":-0.02,"c3":-0.02,"c4":-0.02,"c5":-0.02,"c6":-0.02,"c7":-0.02,"c8":-0.02,"c9":-0.02},
{"p":"1","x":1790,"c0":0.06,"c1":0.059,"c2":0.055,"c3":0.048,"c4":0.04,"c5":0.033,"c6":0.025,"c7":0.035,"c8":0.023,"c9":0.01},
{"p":"1","x":1812,"c0":0.079,"c1":0.078,"c2":0.073,"c3":0.063,"c4":0.053,"c5":0.043,"c6":0.033,"c7":0.042,"c8":0.027,"c9":0.012},
{"p":"1","x":1816,"c0":0.24,"c1":0.235,"c2":0.22,"c3":0.19,"c4":0.16,"c5":0.13,"c6":0.1,"c7":0.07,"c8":0.045,"c9":0.02},
{"p":"1","x":1839,"c0":0.235,"c1":0.23,"c2":0.216,"c3":0.186,"c4":0.157,"c5":0.127,"c6":0.098,"c7":0.069,"c8":0.044,"c9":0.02},
{"p":"1","x":1841,"c0":0.096,"c1":0.094,"c2":0.088,"c3":0.076,"c4":0.064,"c5":0.052,"c6":0.04,"c7":0.042,"c8":0.027,"c9":0.012},
{"p":"1","x":1843,"c0":0.228,"c1":0.223,"c2":0.209,"c3":0.181,"c4":0.152,"c5":0.124,"c6":0.095,"c7":0.067,"c8":0.043,"c9":0.019},
{"p":"1","x":1858,"c0":0.228,"c1":0.223,"c2":0.209,"c3":0.181,"c4":0.152,"c5":0.124,"c6":0.095,"c7":0.067,"c8":0.043,"c9":0.019},
{"p":"1","x":1860,"c0":0.096,"c1":0.094,"c2":0.088,"c3":0.076,"c4":0.064,"c5":0.052,"c6":0.04,"c7":0.042,"c8":0.027,"c9":0.012},
{"p":"1","x":1862,"c0":0.233,"c1":0.228,"c2":0.213,"c3":0.184,"c4":0.155,"c5":0.126,"c6":0.097,"c7":0.068,"c8":0.044,"c9":0.019},
{"p":"1","x":1883,"c0":0.228,"c1":0.223,"c2":0.209,"c3":0.181,"c4":0.152,"c5":0.124,"c6":0.095,"c7":0.067,"c8":0.043,"c9":0.019},
{"p":"1","x":1885,"c0":0.084,"c1":0.082,"c2":0.077,"c3":0.067,"c4":0.056,"c5":0.046,"c6":0.035,"c7":0.042,"c8":0.027,"c9":0.012},
{"p":"1","x":1887,"c0":0.216,"c1":0.212,"c2":0.198,"c3":0.171,"c4":0.144,"c5":0.117,"c6":0.09,"c7":0.063,"c8":0.041,"c9":0.018},
{"p":"1","x":1912,"c0":0.216,"c1":0.212,"c2":0.198,"c3":0.171,"c4":0.144,"c5":0.117,"c6":0.09,"c7":0.063,"c8":0.041,"c9":0.018},
{"p":"1","x":1916,"c0":0.036,"c1":0.035,"c2":0.033,"c3":0.029,"c4":0.024,"c5":0.02,"c6":0.015,"c7":0.042,"c8":0.027,"c9":0.012},
{"p":"1","x":1932,"c0":0.005,"c1":0.005,"c2":0.004,"c3":0.004,"c4":0.003,"c5":0.003,"c6":0.002,"c7":0.028,"c8":0.018,"c9":0.008},
{"p":"1","x":1936,"c0":-0.02,"c1":-0.02,"c2":-0.02,"c3":-0.02,"c4":-0.02,"c5":-0.02,"c6":-0.02,"c7":-0.02,"c8":-0.02,"c9":-0.02},

{"p":"2","x":1340,"c0":-0.02,"c1":-0.02,"c2":-0.02,"c3":-0.02,"c4":-0.02,"c5":-0.02,"c6":-0.02,"c7":-0.02,"c8":-0.02,"c9":-0.02},
{"p":"2","x":1344,"c0":0.105,"c1":0.104,"c2":0.095,"c3":0.083,"c4":0.068,"c5":0.053,"c6":0.038,"c7":0.045,"c8":0.027,"c9":0.014},
{"p":"2","x":1348,"c0":0.7,"c1":0.69,"c2":0.63,"c3":0.55,"c4":0.45,"c5":0.35,"c6":0.25,"c7":0.15,"c8":0.09,"c9":0.045},
{"p":"2","x":1363,"c0":0.7,"c1":0.69,"c2":0.63,"c3":0.55,"c4":0.45,"c5":0.35,"c6":0.25,"c7":0.15,"c8":0.09,"c9":0.045},
{"p":"2","x":1365,"c0":0.42,"c1":0.414,"c2":0.378,"c3":0.33,"c4":0.27,"c5":0.21,"c6":0.15,"c7":0.09,"c8":0.054,"c9":0.027},
{"p":"2","x":1367,"c0":0.665,"c1":0.656,"c2":0.599,"c3":0.523,"c4":0.428,"c5":0.333,"c6":0.238,"c7":0.143,"c8":0.086,"c9":0.043},
{"p":"2","x":1374,"c0":0.651,"c1":0.642,"c2":0.586,"c3":0.512,"c4":0.419,"c5":0.326,"c6":0.233,"c7":0.14,"c8":0.084,"c9":0.042},
{"p":"2","x":1376,"c0":0.315,"c1":0.311,"c2":0.284,"c3":0.248,"c4":0.203,"c5":0.158,"c6":0.113,"c7":0.09,"c8":0.054,"c9":0.027},
{"p":"2","x":1378,"c0":0.665,"c1":0.656,"c2":0.599,"c3":0.523,"c4":0.428,"c5":0.333,"c6":0.238,"c7":0.143,"c8":0.086,"c9":0.043},
{"p":"2","x":1394,"c0":0.651,"c1":0.642,"c2":0.586,"c3":0.512,"c4":0.419,"c5":0.326,"c6":0.233,"c7":0.14,"c8":0.084,"c9":0.042},
{"p":"2","x":1398,"c0":0.126,"c1":0.124,"c2":0.113,"c3":0.099,"c4":0.081,"c5":0.063,"c6":0.045,"c7":0.09,"c8":0.054,"c9":0.027},
{"p":"2","x":1412,"c0":0.035,"c1":0.035,"c2":0.032,"c3":0.028,"c4":0.023,"c5":0.018,"c6":0.013,"c7":0.068,"c8":0.041,"c9":0.02},
{"p":"2","x":1424,"c0":0,"c1":0,"c2":0,"c3":0,"c4":0,"c5":0,"c6":0,"c7":0.045,"c8":0.027,"c9":0.014},
{"p":"2","x":1428,"c0":-0.02,"c1":-0.02,"c2":-0.02,"c3":-0.02,"c4":-0.02,"c5":-0.02,"c6":-0.02,"c7":-0.02,"c8":-0.02,"c9":-0.02},
{"p":"2","x":1785,"c0":-0.02,"c1":-0.02,"c2":-0.02,"c3":-0.02,"c4":-0.02,"c5":-0.02,"c6":-0.02,"c7":-0.02,"c8":-0.02,"c9":-0.02},
{"p":"2","x":1790,"c0":0.135,"c1":0.133,"c2":0.123,"c3":0.105,"c4":0.088,"c5":0.068,"c6":0.05,"c7":0.06,"c8":0.035,"c9":0.018},
{"p":"2","x":1812,"c0":0.178,"c1":0.175,"c2":0.162,"c3":0.139,"c4":0.116,"c5":0.089,"c6":0.066,"c7":0.072,"c8":0.042,"c9":0.021},
{"p":"2","x":1816,"c0":0.54,"c1":0.53,"c2":0.49,"c3":0.42,"c4":0.35,"c5":0.27,"c6":0.2,"c7":0.12,"c8":0.07,"c9":0.035},
{"p":"2","x":1839,"c0":0.529,"c1":0.519,"c2":0.48,"c3":0.412,"c4":0.343,"c5":0.265,"c6":0.196,"c7":0.118,"c8":0.069,"c9":0.034},
{"p":"2","x":1841,"c0":0.216,"c1":0.212,"c2":0.196,"c3":0.168,"c4":0.14,"c5":0.108,"c6":0.08,"c7":0.072,"c8":0.042,"c9":0.021},
{"p":"2","x":1843,"c0":0.513,"c1":0.504,"c2":0.466,"c3":0.399,"c4":0.333,"c5":0.257,"c6":0.19,"c7":0.114,"c8":0.067,"c9":0.033},
{"p":"2","x":1858,"c0":0.513,"c1":0.504,"c2":0.466,"c3":0.399,"c4":0.333,"c5":0.257,"c6":0.19,"c7":0.114,"c8":0.067,"c9":0.033},
{"p":"2","x":1860,"c0":0.216,"c1":0.212,"c2":0.196,"c3":0.168,"c4":0.14,"c5":0.108,"c6":0.08,"c7":0.072,"c8":0.042,"c9":0.021},
{"p":"2","x":1862,"c0":0.524,"c1":0.514,"c2":0.475,"c3":0.407,"c4":0.34,"c5":0.262,"c6":0.194,"c7":0.116,"c8":0.068,"c9":0.034},
{"p":"2","x":1883,"c0":0.513,"c1":0.504,"c2":0.466,"c3":0.399,"c4":0.333,"c5":0.257,"c6":0.19,"c7":0.114,"c8":0.067,"c9":0.033},
{"p":"2","x":1885,"c0":0.189,"c1":0.186,"c2":0.172,"c3":0.147,"c4":0.123,"c5":0.095,"c6":0.07,"c7":0.072,"c8":0.042,"c9":0.021},
{"p":"2","x":1887,"c0":0.524,"c1":0.514,"c2":0.475,"c3":0.407,"c4":0.34,"c5":0.262,"c6":0.194,"c7":0.116,"c8":0.068,"c9":0.034},
{"p":"2","x":1912,"c0":0.524,"c1":0.514,"c2":0.475,"c3":0.407,"c4":0.34,"c5":0.262,"c6":0.194,"c7":0.116,"c8":0.068,"c9":0.034},
{"p":"2","x":1916,"c0":0.081,"c1":0.08,"c2":0.074,"c3":0.063,"c4":0.053,"c5":0.041,"c6":0.03,"c7":0.072,"c8":0.042,"c9":0.021},
{"p":"2","x":1932,"c0":0.011,"c1":0.011,"c2":0.01,"c3":0.008,"c4":0.007,"c5":0.005,"c6":0.004,"c7":0.048,"c8":0.028,"c9":0.014},
{"p":"2","x":1936,"c0":-0.02,"c1":-0.02,"c2":-0.02,"c3":-0.02,"c4":-0.02,"c5":-0.02,"c6":-0.02,"c7":-0.02,"c8":-0.02,"c9":-0.02},

{"p":"3","x":1340,"c0":-0.02,"c1":-0.02,"c2":-0.02,"c3":-0.02,"c4":-0.02,"c5":-0.02,"c6":-0.02,"c7":-0.02,"c8":-0.02,"c9":-0.02},
{"p":"3","x":1344,"c0":0.12,"c1":0.119,"c2":0.108,"c3":0.095,"c4":0.078,"c5":0.06,"c6":0.044,"c7":0.051,"c8":0.03,"c9":0.015},
{"p":"3","x":1348,"c0":0.8,"c1":0.79,"c2":0.72,"c3":0.63,"c4":0.52,"c5":0.4,"c6":0.29,"c7":0.17,"c8":0.1,"c9":0.05},
{"p":"3","x":1363,"c0":0.8,"c1":0.79,"c2":0.72,"c3":0.63,"c4":0.52,"c5":0.4,"c6":0.29,"c7":0.17,"c8":0.1,"c9":0.05},
{"p":"3","x":1365,"c0":0.48,"c1":0.474,"c2":0.432,"c3":0.378,"c4":0.312,"c5":0.24,"c6":0.174,"c7":0.102,"c8":0.06,"c9":0.03},
{"p":"3","x":1367,"c0":0.76,"c1":0.751,"c2":0.684,"c3":0.599,"c4":0.494,"c5":0.38,"c6":0.276,"c7":0.162,"c8":0.095,"c9":0.048},
{"p":"3","x":1374,"c0":0.744,"c1":0.735,"c2":0.67,"c3":0.586,"c4":0.484,"c5":0.372,"c6":0.27,"c7":0.158,"c8":0.093,"c9":0.047},
{"p":"3","x":1376,"c0":0.36,"c1":0.356,"c2":0.324,"c3":0.284,"c4":0.234,"c5":0.18,"c6":0.131,"c7":0.102,"c8":0.06,"c9":0.03},
{"p":"3","x":1378,"c0":0.768,"c1":0.758,"c2":0.691,"c3":0.605,"c4":0.499,"c5":0.384,"c6":0.278,"c7":0.163,"c8":0.096,"c9":0.048},
{"p":"3","x":1394,"c0":0.768,"c1":0.758,"c2":0.691,"c3":0.605,"c4":0.499,"c5":0.384,"c6":0.278,"c7":0.163,"c8":0.096,"c9":0.048},
{"p":"3","x":1398,"c0":0.144,"c1":0.142,"c2":0.13,"c3":0.113,"c4":0.094,"c5":0.072,"c6":0.052,"c7":0.102,"c8":0.06,"c9":0.03},
{"p":"3","x":1412,"c0":0.04,"c1":0.04,"c2":0.036,"c3":0.032,"c4":0.026,"c5":0.02,"c6":0.015,"c7":0.077,"c8":0.045,"c9":0.023},
{"p":"3","x":1424,"c0":0,"c1":0,"c2":0,"c3":0,"c4":0,"c5":0,"c6":0,"c7":0.051,"c8":0.03,"c9":0.015},
{"p":"3","x":1428,"c0":-0.02,"c1":-0.02,"c2":-0.02,"c3":-0.02,"c4":-0.02,"c5":-0.02,"c6":-0.02,"c7":-0.02,"c8":-0.02,"c9":-0.02},
{"p":"3","x":1785,"c0":-0.02,"c1":-0.02,"c2":-0.02,"c3":-0.02,"c4":-0.02,"c5":-0.02,"c6":-0.02,"c7":-0.02,"c8":-0.02,"c9":-0.02},
{"p":"3","x":1790,"c0":0.141,"c1":0.139,"c2":0.128,"c3":0.11,"c4":0.09,"c5":0.07,"c6":0.053,"c7":0.063,"c8":0.038,"c9":0.019},
{"p":"3","x":1812,"c0":0.186,"c1":0.183,"c2":0.168,"c3":0.145,"c4":0.119,"c5":0.092,"c6":0.069,"c7":0.075,"c8":0.045,"c9":0.022},
{"p":"3","x":1816,"c0":0.565,"c1":0.555,"c2":0.51,"c3":0.44,"c4":0.36,"c5":0.28,"c6":0.21,"c7":0.125,"c8":0.075,"c9":0.037},
{"p":"3","x":1839,"c0":0.554,"c1":0.544,"c2":0.5,"c3":0.431,"c4":0.353,"c5":0.274,"c6":0.206,"c7":0.123,"c8":0.074,"c9":0.036},
{"p":"3","x":1841,"c0":0.226,"c1":0.222,"c2":0.204,"c3":0.176,"c4":0.144,"c5":0.112,"c6":0.084,"c7":0.075,"c8":0.045,"c9":0.022},
{"p":"3","x":1843,"c0":0.537,"c1":0.527,"c2":0.485,"c3":0.418,"c4":0.342,"c5":0.266,"c6":0.2,"c7":0.119,"c8":0.071,"c9":0.035},
{"p":"3","x":1858,"c0":0.537,"c1":0.527,"c2":0.485,"c3":0.418,"c4":0.342,"c5":0.266,"c6":0.2,"c7":0.119,"c8":0.071,"c9":0.035},
{"p":"3","x":1860,"c0":0.226,"c1":0.222,"c2":0.204,"c3":0.176,"c4":0.144,"c5":0.112,"c6":0.084,"c7":0.075,"c8":0.045,"c9":0.022},
{"p":"3","x":1862,"c0":0.548,"c1":0.538,"c2":0.495,"c3":0.427,"c4":0.349,"c5":0.272,"c6":0.204,"c7":0.121,"c8":0.073,"c9":0.036},
{"p":"3","x":1883,"c0":0.537,"c1":0.527,"c2":0.485,"c3":0.418,"c4":0.342,"c5":0.266,"c6":0.2,"c7":0.119,"c8":0.071,"c9":0.035},
{"p":"3","x":1885,"c0":0.198,"c1":0.194,"c2":0.179,"c3":0.154,"c4":0.126,"c5":0.098,"c6":0.074,"c7":0.075,"c8":0.045,"c9":0.022},
{"p":"3","x":1887,"c0":0.548,"c1":0.538,"c2":0.495,"c3":0.427,"c4":0.349,"c5":0.272,"c6":0.204,"c7":0.121,"c8":0.073,"c9":0.036},
{"p":"3","x":1912,"c0":0.548,"c1":0.538,"c2":0.495,"c3":0.427,"c4":0.349,"c5":0.272,"c6":0.204,"c7":0.121,"c8":0.073,"c9":0.036},
{"p":"3","x":1916,"c0":0.085,"c1":0.083,"c2":0.077,"c3":0.066,"c4":0.054,"c5":0.042,"c6":0.032,"c7":0.075,"c8":0.045,"c9":0.022},
{"p":"3","x":1932,"c0":0.011,"c1":0.011,"c2":0.01,"c3":0.009,"c4":0.007,"c5":0.006,"c6":0.004,"c7":0.05,"c8":0.03,"c9":0.015},
{"p":"3","x":1936,"c0":-0.02,"c1":-0.02,"c2":-0.02,"c3":-0.02,"c4":-0.02,"c5":-0.02,"c6":-0.02,"c7":-0.02,"c8":-0.02,"c9":-0.02}
]
},
"spacing": 17,
"hconcat": [
{
"title": {"text": "(a)  Cloudy dry planets; aₛ = 0.0", "anchor": "middle", "offset": 5},
"spacing": 0, "bounds": "flush",
"vconcat": [
{"width": 651, "height": 258, "data": {"values": [{}]}, "layer": [
 {"data": {"name": "L"}, "transform": [{"filter": "datum.p=='1'"}, {"fold": ["c0","c1","c2","c3","c4","c5","c6","c7","c8","c9"], "as": ["k","v"]}],
  "mark": {"type": "line", "strokeWidth": 1.2, "clip": true},
  "encoding": {"x": {"field": "x", "type": "quantitative", "scale": {"domain": [300, 2482], "nice": false, "zero": false}, "axis": null},
   "y": {"field": "v", "type": "quantitative", "scale": {"domain": [-0.1, 1.03], "nice": false, "zero": false}, "axis": {"values": [0,0.2,0.4,0.6,0.8,1], "format": ".1f", "title": "Degree of polarization Pₛ", "titlePadding": 5}},
   "color": {"field": "k", "type": "nominal", "scale": {"domain": ["c0","c1","c2","c3","c4","c5","c6","c7","c8","c9"], "range": ["#00007f","#0000e8","#0050ff","#00a0ff","#10dcf0","#50ffa8","#b4ff48","#ff9a00","#ff2a00","#800000"]}, "legend": null}}},
 {"data": {"name": "S"}, "transform": [{"filter": "datum.p=='1'"}, {"fold": ["c0","c1","c2","c3","c4","c5","c6","c7","c8","c9"], "as": ["k","v"]}],
  "mark": {"type": "area", "clip": true},
  "encoding": {"x": {"field": "x", "type": "quantitative", "scale": {"domain": [300, 2482], "nice": false, "zero": false}, "axis": null},
   "y": {"field": "v", "type": "quantitative", "stack": null, "scale": {"domain": [-0.1, 1.03], "nice": false, "zero": false}, "axis": {"values": [0,0.2,0.4,0.6,0.8,1], "format": ".1f", "title": "Degree of polarization Pₛ", "titlePadding": 5}},
   "y2": {"datum": -0.02},
   "color": {"field": "k", "type": "nominal", "scale": {"domain": ["c0","c1","c2","c3","c4","c5","c6","c7","c8","c9"], "range": ["#00007f","#0000e8","#0050ff","#00a0ff","#10dcf0","#50ffa8","#b4ff48","#ff9a00","#ff2a00","#800000"]}, "legend": null}}},
 {"mark": {"type": "rect", "fill": "white", "stroke": "black", "strokeWidth": 1.2},
  "encoding": {"x": {"datum": 320, "type": "quantitative", "scale": {"domain": [300, 2482], "nice": false, "zero": false}, "axis": null}, "x2": {"datum": 578},
   "y": {"datum": 0.999, "type": "quantitative", "scale": {"domain": [-0.1, 1.03], "nice": false, "zero": false}, "axis": {"values": [0,0.2,0.4,0.6,0.8,1], "format": ".1f", "title": "Degree of polarization Pₛ", "titlePadding": 5}}, "y2": {"datum": 0.872}}},
 {"mark": {"type": "text", "text": "f", "fontStyle": "italic", "fontSize": 21, "align": "left", "baseline": "middle", "dx": 5},
  "encoding": {"x": {"datum": 320, "type": "quantitative", "scale": {"domain": [300, 2482], "nice": false, "zero": false}, "axis": null}, "y": {"datum": 0.936, "type": "quantitative", "scale": {"domain": [-0.1, 1.03], "nice": false, "zero": false}, "axis": {"values": [0,0.2,0.4,0.6,0.8,1], "format": ".1f", "title": "Degree of polarization Pₛ", "titlePadding": 5}}}},
 {"mark": {"type": "text", "text": "c", "fontSize": 14, "align": "left", "baseline": "middle", "dx": 13, "dy": 5},
  "encoding": {"x": {"datum": 320, "type": "quantitative", "scale": {"domain": [300, 2482], "nice": false, "zero": false}, "axis": null}, "y": {"datum": 0.936, "type": "quantitative", "scale": {"domain": [-0.1, 1.03], "nice": false, "zero": false}, "axis": {"values": [0,0.2,0.4,0.6,0.8,1], "format": ".1f", "title": "Degree of polarization Pₛ", "titlePadding": 5}}}},
 {"mark": {"type": "text", "text": "= 1.0", "fontSize": 21, "align": "left", "baseline": "middle", "dx": 24},
  "encoding": {"x": {"datum": 320, "type": "quantitative", "scale": {"domain": [300, 2482], "nice": false, "zero": false}, "axis": null}, "y": {"datum": 0.936, "type": "quantitative", "scale": {"domain": [-0.1, 1.03], "nice": false, "zero": false}, "axis": {"values": [0,0.2,0.4,0.6,0.8,1], "format": ".1f", "title": "Degree of polarization Pₛ", "titlePadding": 5}}}}
]},
{"width": 651, "height": 258, "data": {"values": [{}]}, "layer": [
 {"data": {"name": "L"}, "transform": [{"filter": "datum.p=='2'"}, {"fold": ["c0","c1","c2","c3","c4","c5","c6","c7","c8","c9"], "as": ["k","v"]}],
  "mark": {"type": "line", "strokeWidth": 1.2, "clip": true},
  "encoding": {"x": {"field": "x", "type": "quantitative", "scale": {"domain": [300, 2482], "nice": false, "zero": false}, "axis": null},
   "y": {"field": "v", "type": "quantitative", "scale": {"domain": [-0.1, 1.03], "nice": false, "zero": false}, "axis": {"values": [0,0.2,0.4,0.6,0.8,1], "format": ".1f", "title": "Degree of polarization Pₛ", "titlePadding": 5}},
   "color": {"field": "k", "type": "nominal", "scale": {"domain": ["c0","c1","c2","c3","c4","c5","c6","c7","c8","c9"], "range": ["#00007f","#0000e8","#0050ff","#00a0ff","#10dcf0","#50ffa8","#b4ff48","#ff9a00","#ff2a00","#800000"]}, "legend": null}}},
 {"data": {"name": "S"}, "transform": [{"filter": "datum.p=='2'"}, {"fold": ["c0","c1","c2","c3","c4","c5","c6","c7","c8","c9"], "as": ["k","v"]}],
  "mark": {"type": "area", "clip": true},
  "encoding": {"x": {"field": "x", "type": "quantitative", "scale": {"domain": [300, 2482], "nice": false, "zero": false}, "axis": null},
   "y": {"field": "v", "type": "quantitative", "stack": null, "scale": {"domain": [-0.1, 1.03], "nice": false, "zero": false}, "axis": {"values": [0,0.2,0.4,0.6,0.8,1], "format": ".1f", "title": "Degree of polarization Pₛ", "titlePadding": 5}},
   "y2": {"datum": -0.02},
   "color": {"field": "k", "type": "nominal", "scale": {"domain": ["c0","c1","c2","c3","c4","c5","c6","c7","c8","c9"], "range": ["#00007f","#0000e8","#0050ff","#00a0ff","#10dcf0","#50ffa8","#b4ff48","#ff9a00","#ff2a00","#800000"]}, "legend": null}}},
 {"mark": {"type": "rect", "fill": "white", "stroke": "black", "strokeWidth": 1.2},
  "encoding": {"x": {"datum": 320, "type": "quantitative", "scale": {"domain": [300, 2482], "nice": false, "zero": false}, "axis": null}, "x2": {"datum": 1785},
   "y": {"datum": 0.999, "type": "quantitative", "scale": {"domain": [-0.1, 1.03], "nice": false, "zero": false}, "axis": {"values": [0,0.2,0.4,0.6,0.8,1], "format": ".1f", "title": "Degree of polarization Pₛ", "titlePadding": 5}}, "y2": {"datum": 0.872}}},
 {"mark": {"type": "text", "text": "f", "fontStyle": "italic", "fontSize": 21, "align": "left", "baseline": "middle", "dx": 5},
  "encoding": {"x": {"datum": 320, "type": "quantitative", "scale": {"domain": [300, 2482], "nice": false, "zero": false}, "axis": null}, "y": {"datum": 0.936, "type": "quantitative", "scale": {"domain": [-0.1, 1.03], "nice": false, "zero": false}, "axis": {"values": [0,0.2,0.4,0.6,0.8,1], "format": ".1f", "title": "Degree of polarization Pₛ", "titlePadding": 5}}}},
 {"mark": {"type": "text", "text": "c", "fontSize": 14, "align": "left", "baseline": "middle", "dx": 13, "dy": 5},
  "encoding": {"x": {"datum": 320, "type": "quantitative", "scale": {"domain": [300, 2482], "nice": false, "zero": false}, "axis": null}, "y": {"datum": 0.936, "type": "quantitative", "scale": {"domain": [-0.1, 1.03], "nice": false, "zero": false}, "axis": {"values": [0,0.2,0.4,0.6,0.8,1], "format": ".1f", "title": "Degree of polarization Pₛ", "titlePadding": 5}}}},
 {"mark": {"type": "text", "text": "= 0.5; cloud cover similar to cloud-covered glint", "fontSize": 21, "align": "left", "baseline": "middle", "dx": 24},
  "encoding": {"x": {"datum": 320, "type": "quantitative", "scale": {"domain": [300, 2482], "nice": false, "zero": false}, "axis": null}, "y": {"datum": 0.936, "type": "quantitative", "scale": {"domain": [-0.1, 1.03], "nice": false, "zero": false}, "axis": {"values": [0,0.2,0.4,0.6,0.8,1], "format": ".1f", "title": "Degree of polarization Pₛ", "titlePadding": 5}}}}
]},
{"width": 651, "height": 258, "data": {"values": [{}]}, "layer": [
 {"data": {"name": "L"}, "transform": [{"filter": "datum.p=='3'"}, {"fold": ["c0","c1","c2","c3","c4","c5","c6","c7","c8","c9"], "as": ["k","v"]}],
  "mark": {"type": "line", "strokeWidth": 1.2, "clip": true},
  "encoding": {"x": {"field": "x", "type": "quantitative", "scale": {"domain": [300, 2482], "nice": false, "zero": false}, "axis": {"values": [400,600,800,1000,1200,1400,1600,1800,2000,2200,2400], "format": "d", "title": "Wavelength λ (nm)", "labelPadding": 1, "titlePadding": 0}},
   "y": {"field": "v", "type": "quantitative", "scale": {"domain": [-0.1, 1.03], "nice": false, "zero": false}, "axis": {"values": [0,0.2,0.4,0.6,0.8,1], "format": ".1f", "title": "Degree of polarization Pₛ", "titlePadding": 5}},
   "color": {"field": "k", "type": "nominal", "scale": {"domain": ["c0","c1","c2","c3","c4","c5","c6","c7","c8","c9"], "range": ["#00007f","#0000e8","#0050ff","#00a0ff","#10dcf0","#50ffa8","#b4ff48","#ff9a00","#ff2a00","#800000"]}, "legend": null}}},
 {"data": {"name": "S"}, "transform": [{"filter": "datum.p=='3'"}, {"fold": ["c0","c1","c2","c3","c4","c5","c6","c7","c8","c9"], "as": ["k","v"]}],
  "mark": {"type": "area", "clip": true},
  "encoding": {"x": {"field": "x", "type": "quantitative", "scale": {"domain": [300, 2482], "nice": false, "zero": false}, "axis": {"values": [400,600,800,1000,1200,1400,1600,1800,2000,2200,2400], "format": "d", "title": "Wavelength λ (nm)", "labelPadding": 1, "titlePadding": 0}},
   "y": {"field": "v", "type": "quantitative", "stack": null, "scale": {"domain": [-0.1, 1.03], "nice": false, "zero": false}, "axis": {"values": [0,0.2,0.4,0.6,0.8,1], "format": ".1f", "title": "Degree of polarization Pₛ", "titlePadding": 5}},
   "y2": {"datum": -0.02},
   "color": {"field": "k", "type": "nominal", "scale": {"domain": ["c0","c1","c2","c3","c4","c5","c6","c7","c8","c9"], "range": ["#00007f","#0000e8","#0050ff","#00a0ff","#10dcf0","#50ffa8","#b4ff48","#ff9a00","#ff2a00","#800000"]}, "legend": null}}},
 {"mark": {"type": "rect", "fill": "white", "stroke": "black", "strokeWidth": 1.2},
  "encoding": {"x": {"datum": 320, "type": "quantitative", "scale": {"domain": [300, 2482], "nice": false, "zero": false}, "axis": {"values": [400,600,800,1000,1200,1400,1600,1800,2000,2200,2400], "format": "d", "title": "Wavelength λ (nm)", "labelPadding": 1, "titlePadding": 0}}, "x2": {"datum": 1682},
   "y": {"datum": 0.999, "type": "quantitative", "scale": {"domain": [-0.1, 1.03], "nice": false, "zero": false}, "axis": {"values": [0,0.2,0.4,0.6,0.8,1], "format": ".1f", "title": "Degree of polarization Pₛ", "titlePadding": 5}}, "y2": {"datum": 0.872}}},
 {"mark": {"type": "text", "text": "f", "fontStyle": "italic", "fontSize": 21, "align": "left", "baseline": "middle", "dx": 5},
  "encoding": {"x": {"datum": 320, "type": "quantitative", "scale": {"domain": [300, 2482], "nice": false, "zero": false}, "axis": {"values": [400,600,800,1000,1200,1400,1600,1800,2000,2200,2400], "format": "d", "title": "Wavelength λ (nm)", "labelPadding": 1, "titlePadding": 0}}, "y": {"datum": 0.936, "type": "quantitative", "scale": {"domain": [-0.1, 1.03], "nice": false, "zero": false}, "axis": {"values": [0,0.2,0.4,0.6,0.8,1], "format": ".1f", "title": "Degree of polarization Pₛ", "titlePadding": 5}}}},
 {"mark": {"type": "text", "text": "c", "fontSize": 14, "align": "left", "baseline": "middle", "dx": 13, "dy": 5},
  "encoding": {"x": {"datum": 320, "type": "quantitative", "scale": {"domain": [300, 2482], "nice": false, "zero": false}, "axis": {"values": [400,600,800,1000,1200,1400,1600,1800,2000,2200,2400], "format": "d", "title": "Wavelength λ (nm)", "labelPadding": 1, "titlePadding": 0}}, "y": {"datum": 0.936, "type": "quantitative", "scale": {"domain": [-0.1, 1.03], "nice": false, "zero": false}, "axis": {"values": [0,0.2,0.4,0.6,0.8,1], "format": ".1f", "title": "Degree of polarization Pₛ", "titlePadding": 5}}}},
 {"mark": {"type": "text", "text": "= 0.5; cloud cover similar to cloud-free glint", "fontSize": 21, "align": "left", "baseline": "middle", "dx": 24},
  "encoding": {"x": {"datum": 320, "type": "quantitative", "scale": {"domain": [300, 2482], "nice": false, "zero": false}, "axis": {"values": [400,600,800,1000,1200,1400,1600,1800,2000,2200,2400], "format": "d", "title": "Wavelength λ (nm)", "labelPadding": 1, "titlePadding": 0}}, "y": {"datum": 0.936, "type": "quantitative", "scale": {"domain": [-0.1, 1.03], "nice": false, "zero": false}, "axis": {"values": [0,0.2,0.4,0.6,0.8,1], "format": ".1f", "title": "Degree of polarization Pₛ", "titlePadding": 5}}}}
]}
]
},
{
"title": {"text": "(b)  Cloudy ocean planets; v = 7 m/s", "anchor": "middle", "offset": 5},
"spacing": 0, "bounds": "flush",
"vconcat": [
{"width": 651, "height": 258, "data": {"values": [{}]}, "layer": [
 {"data": {"name": "L"}, "transform": [{"filter": "datum.p=='1'"}, {"fold": ["c0","c1","c2","c3","c4","c5","c6","c7","c8","c9"], "as": ["k","v"]}],
  "mark": {"type": "line", "strokeWidth": 1.2, "clip": true},
  "encoding": {"x": {"field": "x", "type": "quantitative", "scale": {"domain": [300, 2482], "nice": false, "zero": false}, "axis": null},
   "y": {"field": "v", "type": "quantitative", "scale": {"domain": [-0.1, 1.03], "nice": false, "zero": false}, "axis": {"values": [0,0.2,0.4,0.6,0.8,1], "labels": false, "title": null}},
   "color": {"field": "k", "type": "nominal", "scale": {"domain": ["c0","c1","c2","c3","c4","c5","c6","c7","c8","c9"], "range": ["#00007f","#0000e8","#0050ff","#00a0ff","#10dcf0","#50ffa8","#b4ff48","#ff9a00","#ff2a00","#800000"]}, "legend": null}}},
 {"data": {"name": "S"}, "transform": [{"filter": "datum.p=='1'"}, {"fold": ["c0","c1","c2","c3","c4","c5","c6","c7","c8","c9"], "as": ["k","v"]}],
  "mark": {"type": "area", "clip": true},
  "encoding": {"x": {"field": "x", "type": "quantitative", "scale": {"domain": [300, 2482], "nice": false, "zero": false}, "axis": null},
   "y": {"field": "v", "type": "quantitative", "stack": null, "scale": {"domain": [-0.1, 1.03], "nice": false, "zero": false}, "axis": {"values": [0,0.2,0.4,0.6,0.8,1], "labels": false, "title": null}},
   "y2": {"datum": -0.02},
   "color": {"field": "k", "type": "nominal", "scale": {"domain": ["c0","c1","c2","c3","c4","c5","c6","c7","c8","c9"], "range": ["#00007f","#0000e8","#0050ff","#00a0ff","#10dcf0","#50ffa8","#b4ff48","#ff9a00","#ff2a00","#800000"]}, "legend": null}}},
 {"mark": {"type": "rect", "fill": "white", "stroke": "black", "strokeWidth": 1.2},
  "encoding": {"x": {"datum": 320, "type": "quantitative", "scale": {"domain": [300, 2482], "nice": false, "zero": false}, "axis": null}, "x2": {"datum": 578},
   "y": {"datum": 0.999, "type": "quantitative", "scale": {"domain": [-0.1, 1.03], "nice": false, "zero": false}, "axis": {"values": [0,0.2,0.4,0.6,0.8,1], "labels": false, "title": null}}, "y2": {"datum": 0.872}}},
 {"mark": {"type": "text", "text": "f", "fontStyle": "italic", "fontSize": 21, "align": "left", "baseline": "middle", "dx": 5},
  "encoding": {"x": {"datum": 320, "type": "quantitative", "scale": {"domain": [300, 2482], "nice": false, "zero": false}, "axis": null}, "y": {"datum": 0.936, "type": "quantitative", "scale": {"domain": [-0.1, 1.03], "nice": false, "zero": false}, "axis": {"values": [0,0.2,0.4,0.6,0.8,1], "labels": false, "title": null}}}},
 {"mark": {"type": "text", "text": "c", "fontSize": 14, "align": "left", "baseline": "middle", "dx": 13, "dy": 5},
  "encoding": {"x": {"datum": 320, "type": "quantitative", "scale": {"domain": [300, 2482], "nice": false, "zero": false}, "axis": null}, "y": {"datum": 0.936, "type": "quantitative", "scale": {"domain": [-0.1, 1.03], "nice": false, "zero": false}, "axis": {"values": [0,0.2,0.4,0.6,0.8,1], "labels": false, "title": null}}}},
 {"mark": {"type": "text", "text": "= 1.0", "fontSize": 21, "align": "left", "baseline": "middle", "dx": 24},
  "encoding": {"x": {"datum": 320, "type": "quantitative", "scale": {"domain": [300, 2482], "nice": false, "zero": false}, "axis": null}, "y": {"datum": 0.936, "type": "quantitative", "scale": {"domain": [-0.1, 1.03], "nice": false, "zero": false}, "axis": {"values": [0,0.2,0.4,0.6,0.8,1], "labels": false, "title": null}}}}
]},
{"width": 651, "height": 258, "data": {"values": [{}]}, "layer": [
 {"data": {"name": "L"}, "transform": [{"filter": "datum.p=='2' || datum.p=='2b'"}, {"fold": ["c0","c1","c2","c3","c4","c5","c6","c7","c8","c9"], "as": ["k","v"]}, {"filter": "isValid(datum.v) && !(datum.p=='2' && datum.k=='c9')"}],
  "mark": {"type": "line", "strokeWidth": 1.2, "clip": true},
  "encoding": {"x": {"field": "x", "type": "quantitative", "scale": {"domain": [300, 2482], "nice": false, "zero": false}, "axis": null},
   "y": {"field": "v", "type": "quantitative", "scale": {"domain": [-0.1, 1.03], "nice": false, "zero": false}, "axis": {"values": [0,0.2,0.4,0.6,0.8,1], "labels": false, "title": null}},
   "color": {"field": "k", "type": "nominal", "scale": {"domain": ["c0","c1","c2","c3","c4","c5","c6","c7","c8","c9"], "range": ["#00007f","#0000e8","#0050ff","#00a0ff","#10dcf0","#50ffa8","#b4ff48","#ff9a00","#ff2a00","#800000"]}, "legend": null}}},
 {"data": {"name": "S"}, "transform": [{"filter": "datum.p=='2'"}, {"fold": ["c0","c1","c2","c3","c4","c5","c6","c7","c8","c9"], "as": ["k","v"]}],
  "mark": {"type": "area", "clip": true},
  "encoding": {"x": {"field": "x", "type": "quantitative", "scale": {"domain": [300, 2482], "nice": false, "zero": false}, "axis": null},
   "y": {"field": "v", "type": "quantitative", "stack": null, "scale": {"domain": [-0.1, 1.03], "nice": false, "zero": false}, "axis": {"values": [0,0.2,0.4,0.6,0.8,1], "labels": false, "title": null}},
   "y2": {"datum": -0.02},
   "color": {"field": "k", "type": "nominal", "scale": {"domain": ["c0","c1","c2","c3","c4","c5","c6","c7","c8","c9"], "range": ["#00007f","#0000e8","#0050ff","#00a0ff","#10dcf0","#50ffa8","#b4ff48","#ff9a00","#ff2a00","#800000"]}, "legend": null}}},
 {"mark": {"type": "rect", "fill": "white", "stroke": "black", "strokeWidth": 1.2},
  "encoding": {"x": {"datum": 320, "type": "quantitative", "scale": {"domain": [300, 2482], "nice": false, "zero": false}, "axis": null}, "x2": {"datum": 1158},
   "y": {"datum": 0.999, "type": "quantitative", "scale": {"domain": [-0.1, 1.03], "nice": false, "zero": false}, "axis": {"values": [0,0.2,0.4,0.6,0.8,1], "labels": false, "title": null}}, "y2": {"datum": 0.872}}},
 {"mark": {"type": "text", "text": "f", "fontStyle": "italic", "fontSize": 21, "align": "left", "baseline": "middle", "dx": 5},
  "encoding": {"x": {"datum": 320, "type": "quantitative", "scale": {"domain": [300, 2482], "nice": false, "zero": false}, "axis": null}, "y": {"datum": 0.936, "type": "quantitative", "scale": {"domain": [-0.1, 1.03], "nice": false, "zero": false}, "axis": {"values": [0,0.2,0.4,0.6,0.8,1], "labels": false, "title": null}}}},
 {"mark": {"type": "text", "text": "c", "fontSize": 14, "align": "left", "baseline": "middle", "dx": 13, "dy": 5},
  "encoding": {"x": {"datum": 320, "type": "quantitative", "scale": {"domain": [300, 2482], "nice": false, "zero": false}, "axis": null}, "y": {"datum": 0.936, "type": "quantitative", "scale": {"domain": [-0.1, 1.03], "nice": false, "zero": false}, "axis": {"values": [0,0.2,0.4,0.6,0.8,1], "labels": false, "title": null}}}},
 {"mark": {"type": "text", "text": "= 0.5; cloud-covered glint", "fontSize": 21, "align": "left", "baseline": "middle", "dx": 24},
  "encoding": {"x": {"datum": 320, "type": "quantitative", "scale": {"domain": [300, 2482], "nice": false, "zero": false}, "axis": null}, "y": {"datum": 0.936, "type": "quantitative", "scale": {"domain": [-0.1, 1.03], "nice": false, "zero": false}, "axis": {"values": [0,0.2,0.4,0.6,0.8,1], "labels": false, "title": null}}}}
]},
{"width": 651, "height": 258, "data": {"values": [{}]}, "layer": [
 {"data": {"name": "L"}, "transform": [{"filter": "datum.p=='3b'"}, {"fold": ["c0","c1","c2","c3","c4","c5","c6","c7","c8","c9"], "as": ["k","v"]}],
  "mark": {"type": "line", "strokeWidth": 1.2, "clip": true},
  "encoding": {"x": {"field": "x", "type": "quantitative", "scale": {"domain": [300, 2482], "nice": false, "zero": false}, "axis": {"values": [400,600,800,1000,1200,1400,1600,1800,2000,2200,2400], "format": "d", "title": "Wavelength λ (nm)", "labelPadding": 1, "titlePadding": 0}},
   "y": {"field": "v", "type": "quantitative", "scale": {"domain": [-0.1, 1.03], "nice": false, "zero": false}, "axis": {"values": [0,0.2,0.4,0.6,0.8,1], "labels": false, "title": null}},
   "color": {"field": "k", "type": "nominal", "scale": {"domain": ["c0","c1","c2","c3","c4","c5","c6","c7","c8","c9"], "range": ["#00007f","#0000e8","#0050ff","#00a0ff","#10dcf0","#50ffa8","#b4ff48","#ff9a00","#ff2a00","#800000"]}, "legend": null}}},
 {"data": {"name": "S"}, "transform": [{"filter": "datum.p=='3'"}, {"fold": ["c0","c1","c2","c3","c4","c5","c6","c7","c8","c9"], "as": ["k","v"]}],
  "mark": {"type": "area", "clip": true},
  "encoding": {"x": {"field": "x", "type": "quantitative", "scale": {"domain": [300, 2482], "nice": false, "zero": false}, "axis": {"values": [400,600,800,1000,1200,1400,1600,1800,2000,2200,2400], "format": "d", "title": "Wavelength λ (nm)", "labelPadding": 1, "titlePadding": 0}},
   "y": {"field": "v", "type": "quantitative", "stack": null, "scale": {"domain": [-0.1, 1.03], "nice": false, "zero": false}, "axis": {"values": [0,0.2,0.4,0.6,0.8,1], "labels": false, "title": null}},
   "y2": {"datum": -0.02},
   "color": {"field": "k", "type": "nominal", "scale": {"domain": ["c0","c1","c2","c3","c4","c5","c6","c7","c8","c9"], "range": ["#00007f","#0000e8","#0050ff","#00a0ff","#10dcf0","#50ffa8","#b4ff48","#ff9a00","#ff2a00","#800000"]}, "legend": null}}},
 {"mark": {"type": "rect", "fill": "white", "stroke": "black", "strokeWidth": 1.2},
  "encoding": {"x": {"datum": 320, "type": "quantitative", "scale": {"domain": [300, 2482], "nice": false, "zero": false}, "axis": {"values": [400,600,800,1000,1200,1400,1600,1800,2000,2200,2400], "format": "d", "title": "Wavelength λ (nm)", "labelPadding": 1, "titlePadding": 0}}, "x2": {"datum": 1048},
   "y": {"datum": 0.999, "type": "quantitative", "scale": {"domain": [-0.1, 1.03], "nice": false, "zero": false}, "axis": {"values": [0,0.2,0.4,0.6,0.8,1], "labels": false, "title": null}}, "y2": {"datum": 0.872}}},
 {"mark": {"type": "text", "text": "f", "fontStyle": "italic", "fontSize": 21, "align": "left", "baseline": "middle", "dx": 5},
  "encoding": {"x": {"datum": 320, "type": "quantitative", "scale": {"domain": [300, 2482], "nice": false, "zero": false}, "axis": {"values": [400,600,800,1000,1200,1400,1600,1800,2000,2200,2400], "format": "d", "title": "Wavelength λ (nm)", "labelPadding": 1, "titlePadding": 0}}, "y": {"datum": 0.936, "type": "quantitative", "scale": {"domain": [-0.1, 1.03], "nice": false, "zero": false}, "axis": {"values": [0,0.2,0.4,0.6,0.8,1], "labels": false, "title": null}}}},
 {"mark": {"type": "text", "text": "c", "fontSize": 14, "align": "left", "baseline": "middle", "dx": 13, "dy": 5},
  "encoding": {"x": {"datum": 320, "type": "quantitative", "scale": {"domain": [300, 2482], "nice": false, "zero": false}, "axis": {"values": [400,600,800,1000,1200,1400,1600,1800,2000,2200,2400], "format": "d", "title": "Wavelength λ (nm)", "labelPadding": 1, "titlePadding": 0}}, "y": {"datum": 0.936, "type": "quantitative", "scale": {"domain": [-0.1, 1.03], "nice": false, "zero": false}, "axis": {"values": [0,0.2,0.4,0.6,0.8,1], "labels": false, "title": null}}}},
 {"mark": {"type": "text", "text": "= 0.5; cloud-free glint", "fontSize": 21, "align": "left", "baseline": "middle", "dx": 24},
  "encoding": {"x": {"datum": 320, "type": "quantitative", "scale": {"domain": [300, 2482], "nice": false, "zero": false}, "axis": {"values": [400,600,800,1000,1200,1400,1600,1800,2000,2200,2400], "format": "d", "title": "Wavelength λ (nm)", "labelPadding": 1, "titlePadding": 0}}, "y": {"datum": 0.936, "type": "quantitative", "scale": {"domain": [-0.1, 1.03], "nice": false, "zero": false}, "axis": {"values": [0,0.2,0.4,0.6,0.8,1], "labels": false, "title": null}}}}
]}
]
}
]
}
